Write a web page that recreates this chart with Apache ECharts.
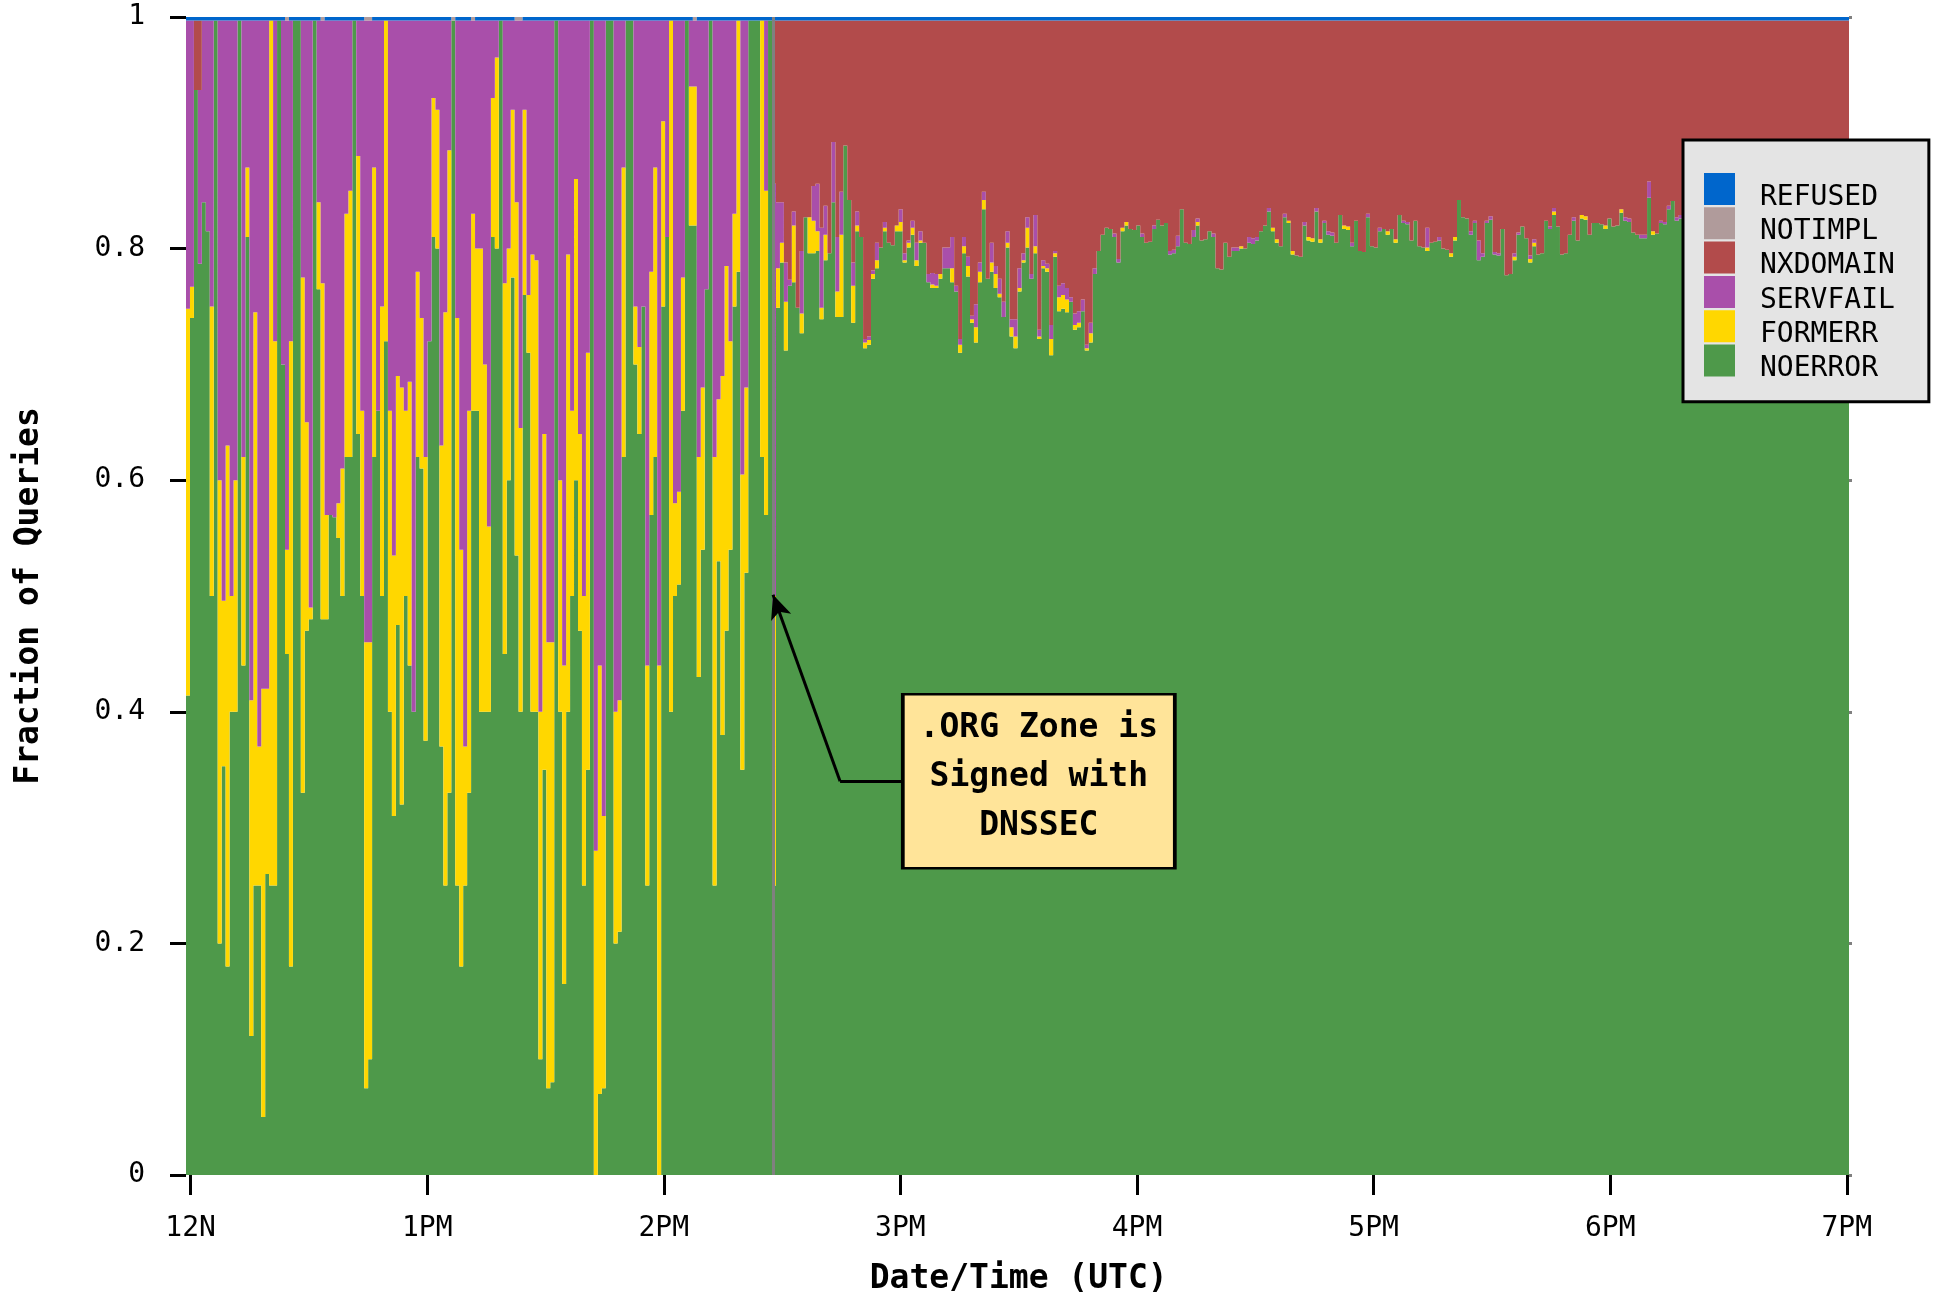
<!DOCTYPE html>
<html>
<head>
<meta charset="utf-8">
<title>DNS response codes</title>
<script src="https://cdn.jsdelivr.net/npm/echarts@6/dist/echarts.min.js"></script>
<style>
html,body{margin:0;padding:0;background:#fff;}
#chart{width:1939px;height:1292px;}
</style>
</head>
<body>
<div id="chart"></div>
<script>
// One bin per minute, 12:00 to 19:00 UTC; values are per-mille of queries.
const NOERROR = [
414,740,937,787,840,815,500,997,200,353,
180,400,400,997,440,810,120,250,250,50,
260,250,250,997,700,450,180,997,997,330,
470,480,997,765,480,480,570,568,550,500,
620,620,997,640,500,75,100,620,660,500,
720,400,310,475,320,500,440,400,620,610,
375,720,810,800,370,250,330,997,250,180,
250,330,660,660,400,400,400,810,800,997,
450,600,775,535,400,760,710,400,400,100,
350,75,80,997,400,165,400,500,600,470,
250,350,997,0,70,75,997,997,200,210,
620,997,997,700,640,750,250,570,620,0,
750,810,400,500,510,660,997,820,820,430,
540,765,997,250,530,380,470,540,750,780,
350,520,997,997,997,620,570,997,250,749,
788,712,768,771,749,727,827,796,796,798,
739,790,796,840,741,741,889,842,736,815,
810,714,717,774,783,801,815,805,803,815,
815,788,801,812,785,805,805,771,766,766,
774,783,783,771,763,710,796,776,736,719,
771,834,774,780,766,758,741,801,724,714,
763,788,801,774,796,722,783,780,708,793,
746,748,745,754,730,732,746,712,719,778,
798,812,818,817,810,788,815,820,817,816,
820,810,805,806,817,825,820,822,795,796,
802,834,805,804,810,820,807,808,815,810,
783,782,805,793,798,798,800,800,805,804,
807,815,820,832,815,805,802,827,822,795,
794,793,820,807,806,832,805,822,812,811,
805,829,817,816,802,824,798,797,827,802,
801,815,817,812,817,805,829,822,821,807,
824,802,801,798,805,806,807,800,799,793,
807,842,827,826,812,822,790,793,822,825,
795,794,817,777,778,790,812,819,809,788,
802,795,796,824,817,829,819,795,796,812,
824,807,826,825,812,822,822,821,817,826,
819,820,831,824,823,814,812,809,809,844,
812,813,822,821,834,841,824,826,830,823,
835,827,821,833,838,825,831,824,836,829,
822,834,840,828,832,826,837,823,831,835,
828,824,833,839,830,825,834,829,836,822,
831,838,827,833,825,835,830,837,828,832
];
const FORMERR = [
334,27,0,0,0,0,250,0,400,143,
450,100,200,0,180,60,290,495,120,370,
160,747,470,0,0,90,540,0,0,445,
180,10,0,75,290,90,0,0,30,110,
210,230,0,240,160,385,360,250,0,250,
277,260,225,215,360,160,245,0,160,130,
245,0,120,120,260,495,555,0,490,360,
120,330,170,140,400,300,160,120,165,0,
320,200,145,305,245,160,50,395,390,300,
290,385,380,0,200,275,395,160,260,170,
250,360,0,280,370,235,0,0,200,200,
250,0,0,50,75,0,190,210,250,440,
160,0,597,80,80,115,0,120,120,190,
140,0,0,370,140,310,315,180,80,217,
255,160,0,0,0,377,280,0,250,34,
17,42,0,49,0,17,0,31,28,17,
10,22,0,0,22,71,0,0,32,5,
0,5,4,4,7,0,3,0,0,5,
8,2,4,6,5,2,0,0,3,2,
4,0,0,12,0,7,6,9,3,13,
9,8,0,8,12,3,0,4,8,10,
3,2,17,0,6,2,2,3,14,3,
12,12,11,0,4,4,0,2,8,0,
0,0,0,0,0,0,3,3,0,0,
0,0,0,0,0,0,0,0,0,0,
0,0,0,0,0,3,0,0,0,0,
0,0,0,0,0,0,2,0,0,0,
0,0,0,0,3,3,0,0,2,3,
0,0,0,3,3,0,3,0,0,0,
0,0,3,3,0,0,0,0,0,0,
0,0,0,3,0,3,0,0,0,0,
0,0,0,3,0,0,0,0,0,3,
3,0,0,0,0,0,0,0,0,0,
0,0,0,0,0,3,0,0,0,3,
3,0,0,0,0,3,0,0,0,0,
0,0,3,3,0,0,0,0,3,0,
0,0,3,0,0,0,0,0,0,0,
3,0,0,0,0,0,0,0,0,0,
0,0,0,0,0,0,0,0,0,0,
0,0,0,0,0,0,0,0,0,0,
0,0,0,0,0,0,0,0,0,0,
0,0,0,0,0,0,0,0,0,0
];
const SERVFAIL = [
249,230,0,150,157,182,247,0,397,501,
367,497,397,0,377,127,587,252,627,577,
577,0,277,0,297,457,277,0,0,222,
347,507,0,157,227,427,427,429,417,387,
167,147,0,117,337,537,537,127,337,247,
0,337,462,307,317,337,312,597,217,257,
377,277,67,77,367,252,112,0,257,457,
627,337,167,197,197,297,437,67,32,0,
227,197,77,157,352,77,237,202,207,597,
357,537,537,0,397,557,202,337,137,357,
497,287,0,717,557,687,0,0,597,587,
127,0,0,247,282,247,557,217,127,557,
87,187,0,417,407,222,0,57,57,377,
317,232,0,377,327,307,212,277,167,0,
392,317,0,0,0,0,147,0,356,57,
35,34,5,12,0,54,0,0,30,41,
69,25,0,52,47,37,0,0,20,12,
0,3,3,3,15,0,5,0,0,0,
11,6,2,6,15,8,0,7,10,10,
0,18,18,27,5,5,8,8,3,20,
8,7,0,17,7,13,13,10,7,15,
17,6,9,4,27,6,5,4,12,2,
10,10,10,4,10,10,10,3,9,5,
0,0,0,0,3,3,0,0,0,0,
0,3,0,0,3,0,0,0,3,3,
9,0,0,0,6,3,0,0,0,3,
0,0,0,0,3,3,0,0,5,5,
3,0,0,3,0,0,0,3,0,0,
0,0,3,0,0,3,0,2,3,3,
0,0,0,0,3,0,0,0,3,0,
0,3,0,0,0,0,0,2,2,0,
0,0,0,17,0,0,3,0,0,0,
0,0,0,0,3,2,17,3,2,3,
2,2,0,0,0,3,2,0,0,3,
3,0,0,0,2,3,0,0,0,0,
3,0,0,0,0,0,0,0,0,0,
0,0,0,3,3,0,0,3,3,14,
0,0,2,2,3,0,3,3,0,0,
0,0,0,0,0,0,0,0,0,0,
0,0,0,0,0,0,0,0,0,0,
0,0,0,0,0,0,0,0,0,0,
0,0,0,0,0,0,0,0,0,0
];
const NXDOMAIN = [
0,0,60,60,0,0,0,0,0,0,
0,0,0,0,0,0,0,0,0,0,
0,0,0,0,0,0,0,0,0,0,
0,0,0,0,0,0,0,0,0,0,
0,0,0,0,0,0,0,0,0,0,
0,0,0,0,0,0,0,0,0,0,
0,0,0,0,0,0,0,0,0,0,
0,0,0,0,0,0,0,0,0,0,
0,0,0,0,0,0,0,0,0,0,
0,0,0,0,0,0,0,0,0,0,
0,0,0,0,0,0,0,0,0,0,
0,0,0,0,0,0,0,0,0,0,
0,0,0,0,0,0,0,0,0,0,
0,0,0,0,0,0,0,0,0,0,
0,0,0,0,0,0,0,0,141,157,
157,209,224,165,248,199,170,170,143,141,
179,160,201,105,187,148,108,155,209,165,
187,275,273,216,192,196,174,192,194,177,
163,201,190,173,192,182,192,219,218,219,
219,196,196,187,229,275,187,204,255,245,
209,148,223,192,212,223,243,182,258,258,
214,201,170,219,168,267,207,210,263,199,
229,227,231,239,253,251,241,280,261,214,
199,185,179,180,184,206,179,174,180,181,
177,184,192,191,177,172,177,175,199,198,
186,163,192,193,181,171,190,189,182,184,
214,215,192,204,196,196,195,197,187,188,
187,182,177,162,179,189,195,167,173,199,
203,204,174,187,188,162,189,173,182,183,
192,168,177,178,192,173,199,200,167,195,
196,179,180,182,180,189,168,173,174,190,
173,195,196,179,192,191,187,197,198,201,
187,155,170,171,182,173,190,201,173,169,
200,201,180,220,219,201,183,178,188,203,
189,202,201,173,178,162,178,202,201,185,
170,190,168,169,185,175,175,176,177,171,
178,177,163,170,171,183,185,185,185,139,
182,184,173,174,160,156,170,168,167,174,
162,170,176,164,159,172,166,173,161,168,
175,163,157,169,165,171,160,174,166,162,
169,173,164,158,167,172,163,168,161,175,
166,159,170,164,172,162,167,160,169,165
];
const NOTIMPL = [
0,0,0,0,0,0,0,0,0,0,0,0,0,0,0,0,0,0,0,0,
0,0,0,0,0,3,0,0,0,0,0,0,0,0,3,0,0,0,0,0,
0,0,0,0,0,3,3,0,0,0,0,0,0,0,0,0,0,0,0,0,
0,0,0,0,0,0,0,3,0,0,0,0,3,0,0,0,0,0,0,0,
0,0,0,3,3,0,0,0,0,0,0,0,0,0,0,0,0,0,0,0,
0,0,0,0,0,0,0,0,0,0,0,0,0,0,0,0,0,0,0,0,
0,0,0,0,0,0,0,0,3,0,0,0,0,0,0,0,0,0,0,0,
0,0,0,0,0,0,0,0,0,0,0,0,0,0,0,0,0,0,0,0,
0,0,0,0,0,0,0,0,0,0,0,0,0,0,0,0,0,0,0,0,
0,0,0,0,0,0,0,0,0,0,0,0,0,0,0,0,0,0,0,0,
0,0,0,0,0,0,0,0,0,0,0,0,0,0,0,0,0,0,0,0,
0,0,0,0,0,0,0,0,0,0,0,0,0,0,0,0,0,0,0,0,
0,0,0,0,0,0,0,0,0,0,0,0,0,0,0,0,0,0,0,0,
0,0,0,0,0,0,0,0,0,0,0,0,0,0,0,0,0,0,0,0,
0,0,0,0,0,0,0,0,0,0,0,0,0,0,0,0,0,0,0,0,
0,0,0,0,0,0,0,0,0,0,0,0,0,0,0,0,0,0,0,0,
0,0,0,0,0,0,0,0,0,0,0,0,0,0,0,0,0,0,0,0,
0,0,0,0,0,0,0,0,0,0,0,0,0,0,0,0,0,0,0,0,
0,0,0,0,0,0,0,0,0,0,0,0,0,0,0,0,0,0,0,0,
0,0,0,0,0,0,0,0,0,0,0,0,0,0,0,0,0,0,0,0,
0,0,0,0,0,0,0,0,0,0,0,0,0,0,0,0,0,0,0,0
];
const REFUSED = [
3,3,3,3,3,3,3,3,3,3,3,3,3,3,3,3,3,3,3,3,
3,3,3,3,3,6,3,3,3,3,3,3,3,6,6,3,3,3,3,3,
3,3,3,3,6,6,6,3,3,3,3,3,3,3,6,3,3,3,3,3,
3,3,3,3,3,3,6,3,3,3,3,6,3,3,3,3,3,3,3,3,
3,6,3,3,3,3,3,3,3,3,3,6,6,3,3,3,3,3,3,3,
3,3,3,3,3,3,3,3,3,3,3,3,3,3,3,3,3,3,3,3,
3,3,3,3,3,3,3,3,3,3,3,3,3,6,6,6,3,3,3,3,
3,3,3,3,3,3,3,3,3,3,3,3,3,3,3,3,3,3,3,3,
3,3,3,3,3,3,3,3,3,3,3,3,3,3,3,3,3,3,3,3,
3,3,3,3,3,3,3,3,3,3,3,3,3,3,3,3,3,3,3,3,
3,3,3,3,3,3,3,3,3,3,3,3,3,3,3,3,3,3,3,3,
3,3,3,3,3,3,3,3,3,3,3,3,3,3,3,3,3,3,3,3,
3,3,3,3,3,3,3,3,3,3,3,3,3,3,3,3,3,3,3,3,
3,3,3,3,3,3,3,3,3,3,3,3,3,3,3,3,3,3,3,3,
3,3,3,3,3,3,3,3,3,3,3,3,3,3,3,3,3,3,3,3,
3,3,3,3,3,3,3,3,3,3,3,3,3,3,3,3,3,3,3,3,
3,3,3,3,3,3,3,3,3,3,3,3,3,3,3,3,3,3,3,3,
3,3,3,3,3,3,3,3,3,3,3,3,3,3,3,3,3,3,3,3,
3,3,3,3,3,3,3,3,3,3,3,3,3,3,3,3,3,3,3,3,
3,3,3,3,3,3,3,3,3,3,3,3,3,3,3,3,3,3,3,3,
3,3,3,3,3,3,3,3,3,3,3,3,3,3,3,3,3,3,3,3
];

const X_TICK_LABELS = ['12N', '1PM', '2PM', '3PM', '4PM', '5PM', '6PM', '7PM'];
const LEGEND_ORDER = ['REFUSED', 'NOTIMPL', 'NXDOMAIN', 'SERVFAIL', 'FORMERR', 'NOERROR'];
const EVENT_MINUTE = 147.8;          // .ORG signed (minutes after 12:00)
const ARROW_TIP = [147.7, 501];
const ARROW_BEND = [164.7, 340];
const BOX_EDGE = [180.7, 340];
const BOX_CENTER = [215.1, 340];
const NOTE_LINES = ['.ORG Zone is', 'Signed with', 'DNSSEC'];

const FONT = "'DejaVu Sans Mono', 'Liberation Mono', monospace";
const COLORS = {
  NOERROR: '#4e994a', FORMERR: '#ffd700', SERVFAIL: '#a94faa',
  NXDOMAIN: '#b24b4b', NOTIMPL: '#b09b9b', REFUSED: '#0066cc'
};
// Legend swatch: a 31x32 square at the top of a taller (invisible-padded) icon box,
// so the label sits slightly lower than the swatch centre, as in the original.
const LEGEND_ICON = 'path://M0,0H31V32H0Z M0,48.8H31Z';

const cats = NOERROR.map((_, i) => i);
function barSeries(name, data) {
  return {
    name, type: 'bar', stack: 'total', data,
    xAxisIndex: 0, yAxisIndex: 0,
    barCategoryGap: '0%', barGap: '0%',
    large: true, largeThreshold: 100,
    itemStyle: { color: COLORS[name] },
    silent: true
  };
}

const chart = echarts.init(document.getElementById('chart'), null, { renderer: 'canvas' });
chart.setOption({
  animation: false,
  backgroundColor: '#ffffff',
  textStyle: { fontFamily: FONT },
  grid: [
    { left: 186, right: 90, top: 17, bottom: 117, outerBoundsMode: 'none', containLabel: false },
    { left: 190.6, right: 92.2, top: 17, bottom: 117, outerBoundsMode: 'none', containLabel: false }
  ],
  xAxis: [
    { type: 'category', gridIndex: 0, data: cats, show: false, boundaryGap: true },
    {
      type: 'value', gridIndex: 1, min: 0, max: 420, interval: 60,
      axisLine: { show: false }, splitLine: { show: false },
      axisTick: { show: true, length: 20, lineStyle: { color: '#000', width: 3 } },
      axisLabel: { margin: 40, color: '#000', fontSize: 28, fontFamily: FONT,
        formatter: v => X_TICK_LABELS[Math.round(v / 60)] },
      name: 'Date/Time (UTC)', nameLocation: 'middle', nameGap: 88,
      nameTextStyle: { color: '#000', fontSize: 33, fontWeight: 'bold', fontFamily: FONT }
    }
  ],
  yAxis: [
    {
      type: 'value', gridIndex: 0, min: 0, max: 1000, interval: 200,
      axisLine: { show: false }, splitLine: { show: false },
      axisTick: { show: true, length: 16, lineStyle: { color: '#000', width: 3 } },
      axisLabel: { margin: 41, color: '#000', fontSize: 28, fontFamily: FONT,
        formatter: v => String(v / 1000) },
      name: 'Fraction of Queries', nameLocation: 'middle', nameGap: 140,
      nameTextStyle: { color: '#000', fontSize: 33, fontWeight: 'bold', fontFamily: FONT }
    },
    {
      type: 'value', gridIndex: 0, position: 'right', min: 0, max: 1000, interval: 200,
      axisLine: { show: false }, splitLine: { show: false }, axisLabel: { show: false },
      axisTick: { show: true, length: 3, lineStyle: { color: '#808080', width: 3 } }
    },
    { type: 'value', gridIndex: 1, min: 0, max: 1000, show: false }
  ],
  legend: {
    orient: 'vertical', left: 1683, top: 140,
    data: LEGEND_ORDER, icon: LEGEND_ICON, itemWidth: 31, itemHeight: 48.8, itemGap: -14.5,
    backgroundColor: '#e4e4e4', borderColor: '#000', borderWidth: 3,
    padding: [33, 34, 8.5, 21], selectedMode: false,
    textStyle: { fontFamily: FONT, fontSize: 28, color: '#000', padding: [0, 0, 0, 20] }
  },
  series: [
    barSeries('NOERROR', NOERROR),
    barSeries('FORMERR', FORMERR),
    barSeries('SERVFAIL', SERVFAIL),
    barSeries('NXDOMAIN', NXDOMAIN),
    barSeries('NOTIMPL', NOTIMPL),
    barSeries('REFUSED', REFUSED),
    {
      type: 'line', xAxisIndex: 1, yAxisIndex: 2, data: [], silent: true, z: 10,
      markLine: {
        silent: true, animation: false, symbol: ['none', 'none'],
        label: { show: false },
        lineStyle: { color: '#000', width: 3, type: 'solid' },
        data: [
          [{ coord: [EVENT_MINUTE, 0], lineStyle: { color: '#808080', width: 3, type: 'solid' } },
           { coord: [EVENT_MINUTE, 1000] }],
          [{ coord: ARROW_TIP, symbol: 'arrow', symbolSize: [16, 24] },
           { coord: ARROW_BEND, symbol: 'none' }],
          [{ coord: ARROW_BEND }, { coord: BOX_EDGE }]
        ]
      },
      markPoint: {
        silent: true, animation: false,
        data: [{
          coord: BOX_CENTER, symbol: 'rect', symbolSize: [272, 174],
          itemStyle: { color: '#ffe499', borderColor: '#000', borderWidth: 3 },
          label: {
            show: true, position: 'inside', formatter: NOTE_LINES.join('\n'),
            color: '#000', fontFamily: FONT, fontWeight: 'bold', fontSize: 33,
            lineHeight: 49, align: 'center', offset: [0, -4]
          }
        }]
      }
    }
  ]
});
</script>
</body>
</html>
